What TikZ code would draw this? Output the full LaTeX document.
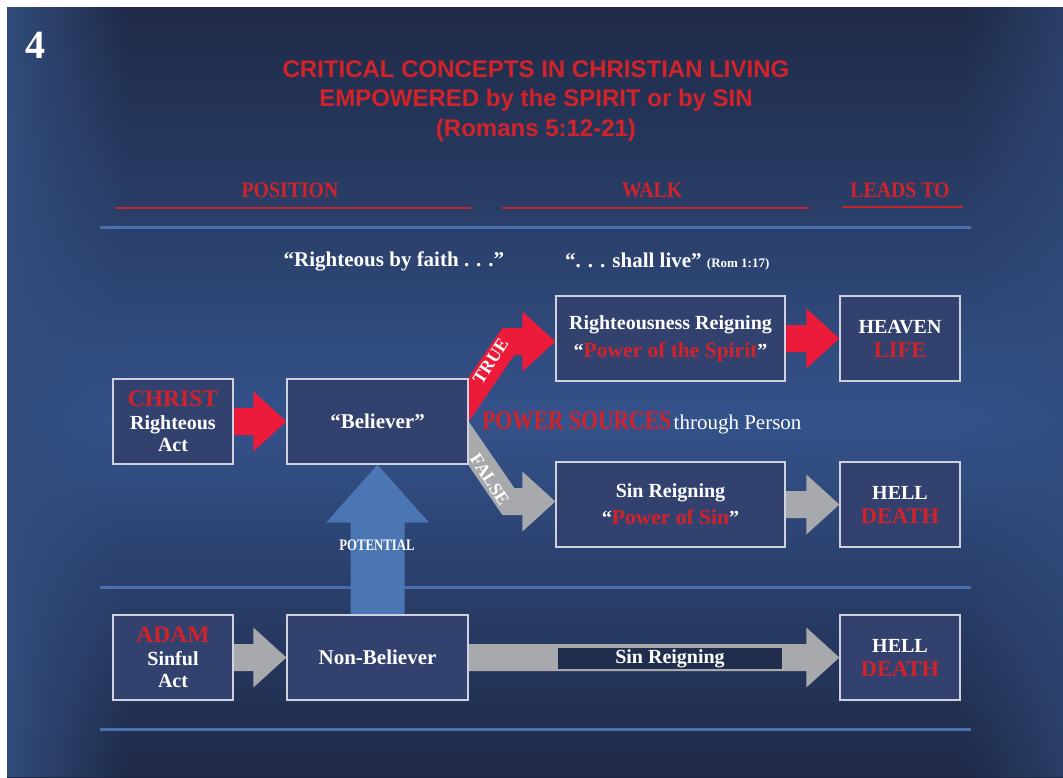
\documentclass[tikz,border=0pt]{standalone}
\usepackage{fontspec}
\setmainfont{Liberation Serif}
\newfontfamily\titlefont{Liberation Sans}
\newfontfamily\narrowfont[FakeStretch=0.8]{Liberation Serif}
\newfontfamily\hdrfont[FakeStretch=0.9]{Liberation Serif}
\usetikzlibrary{calc,fadings}
\definecolor{bgTop}   {RGB}{ 31, 42, 70}
\definecolor{bgMid}   {RGB}{ 52, 82,138}
\definecolor{bgBot}   {RGB}{ 30, 41, 70}
\definecolor{bgEdge}  {RGB}{ 50, 76,124}
\definecolor{barFill} {RGB}{ 32, 45, 77}
\definecolor{boxFill} {RGB}{ 51, 65,110}
\definecolor{boxLine} {RGB}{205,210,222}
\definecolor{ruleBlue}{RGB}{ 74,113,174}
\definecolor{potBlue} {RGB}{ 75,118,180}
\definecolor{txtRed}  {RGB}{210, 35, 42}
\definecolor{ulRed}   {RGB}{196, 38, 44}
\definecolor{arrRed}  {RGB}{237, 27, 58}
\definecolor{arrGray} {RGB}{167,169,172}
\pgfdeclarelayer{back}
\pgfdeclarelayer{arrows}
\pgfsetlayers{back,arrows,main}

\begin{document}
\begin{tikzpicture}[
  x=1pt, y=-1pt,
  every node/.style={text=white,inner sep=0pt},
  box/.style={draw=boxLine,line width=1.3pt,fill=boxFill,align=center,
              minimum height=85pt,font=\fontsize{20}{22.5}\selectfont\bfseries},
  smallbox/.style={box,minimum width=120pt},
  midbox/.style={box,minimum width=181pt,font=\fontsize{21}{22.5}\selectfont\bfseries},
  widebox/.style={box,minimum width=229pt},
  hdr/.style={text=txtRed,font=\hdrfont\bfseries\fontsize{22}{22}\selectfont},
  quote/.style={font=\bfseries\fontsize{21}{21}\selectfont},
  lbl/.style={font=\bfseries\fontsize{18}{18}\selectfont},
  rule/.style={ruleBlue,line width=3pt},
  ul/.style={ulRed,line width=2.5pt}
]
\useasboundingbox (0,0) rectangle (1063,777);

% background
\begin{pgfonlayer}{back}
\fill[white] (0,0) rectangle (1063,777);
\shade[top color=bgTop,bottom color=bgMid] (7,7) rectangle (1063,420);
\shade[top color=bgMid,bottom color=bgBot] (7,420) rectangle (1063,777);
\fill[bgEdge,path fading=east] (7,7) rectangle (130,777);
\fill[bgEdge,opacity=0.6,path fading=west] (960,7) rectangle (1063,777);
\draw[rule] (100,227) -- (971,227);
\draw[rule] (100,587) -- (971,587);
\draw[rule] (100,729) -- (971,729);
\draw[ul] (115,208) -- (471,208);
\draw[ul] (502,208) -- (809,208);
\draw[ul] (842,207) -- (963,207);
\end{pgfonlayer}

\node[font=\bfseries\fontsize{40}{40}\selectfont] (num) at (35,45) {4};
\node[text=txtRed,align=center,font=\titlefont\bfseries\fontsize{24}{29.5}\selectfont]
  (title) at (536,101) {CRITICAL CONCEPTS IN CHRISTIAN LIVING\\
  EMPOWERED by the SPIRIT or by SIN\\(Romans 5:12-21)};

\node[hdr] (hpos)  at (290,190) {POSITION};
\node[hdr] (hwalk) at (652,190) {WALK};
\node[hdr] (hlead) at (900,190) {LEADS TO};

\node[quote] (qfaith) at (394,261) {“Righteous by faith . . .”};
\node[quote,anchor=base west] (qlive) at (565,267)
  {“. . . shall live” {\fontsize{13}{13}\selectfont(Rom 1:17)}};

% boxes
\node[smallbox] (christ) at (173,421.5)
  {{\color{txtRed}\fontsize{23.5}{22.5}\selectfont CHRIST}\\Righteous\\Act};
\node[midbox] (believer) at (377.5,421.5) {“Believer”};
\node[widebox,font=\fontsize{20}{28}\selectfont\bfseries] (rr) at (670.5,338.5)
  {Righteousness Reigning\\“{\color{txtRed}\fontsize{21.5}{28}\selectfont Power of the Spirit}”};
\node[smallbox,font=\fontsize{20}{24}\selectfont\bfseries] (heaven) at (900,338.5)
  {HEAVEN\\{\color{txtRed}\fontsize{22.5}{24}\selectfont LIFE}};
\node[widebox,font=\fontsize{20}{27}\selectfont\bfseries] (sr) at (670.5,504.5)
  {Sin Reigning\\“{\color{txtRed}\fontsize{21.5}{27}\selectfont Power of Sin}”};
\node[smallbox,font=\fontsize{20}{24}\selectfont\bfseries] (hell) at (900,504.5)
  {HELL\\{\color{txtRed}\fontsize{22.5}{24}\selectfont DEATH}};
\node[smallbox] (adam) at (173,657.5)
  {{\color{txtRed}\fontsize{23.5}{22.5}\selectfont ADAM}\\Sinful\\Act};
\node[midbox] (nonbel) at (377.5,657.5) {Non-Believer};
\node[smallbox,font=\fontsize{20}{24}\selectfont\bfseries] (hell2) at (900,657.5)
  {HELL\\{\color{txtRed}\fontsize{22.5}{24}\selectfont DEATH}};

% block arrows
\begin{pgfonlayer}{arrows}
\fill[arrRed] let \p1=(christ.east), \p2=(believer.west) in
  (\x1,\y1+13.5pt) -- (\x2-33pt,\y1+13.5pt) -- (\x2-33pt,\y1+30pt) -- (\x2,\y1)
  -- (\x2-33pt,\y1-30pt) -- (\x2-33pt,\y1-13.5pt) -- (\x1,\y1-13.5pt) -- cycle;
\fill[arrGray] let \p1=(adam.east), \p2=(nonbel.west) in
  (\x1,\y1+13.5pt) -- (\x2-33pt,\y1+13.5pt) -- (\x2-33pt,\y1+30pt) -- (\x2,\y1)
  -- (\x2-33pt,\y1-30pt) -- (\x2-33pt,\y1-13.5pt) -- (\x1,\y1-13.5pt) -- cycle;
\fill[arrRed] let \p1=(rr.east), \p2=(heaven.west) in
  (\x1,\y1+13.5pt) -- (\x2-33pt,\y1+13.5pt) -- (\x2-33pt,\y1+30pt) -- (\x2,\y1)
  -- (\x2-33pt,\y1-30pt) -- (\x2-33pt,\y1-13.5pt) -- (\x1,\y1-13.5pt) -- cycle;
\fill[arrGray] let \p1=(sr.east), \p2=(hell.west) in
  (\x1,\y1+13.5pt) -- (\x2-33pt,\y1+13.5pt) -- (\x2-33pt,\y1+30pt) -- (\x2,\y1)
  -- (\x2-33pt,\y1-30pt) -- (\x2-33pt,\y1-13.5pt) -- (\x1,\y1-13.5pt) -- cycle;
\fill[arrGray] let \p1=(nonbel.east), \p2=(hell2.west) in
  (\x1,\y1+13.5pt) -- (\x2-33pt,\y1+13.5pt) -- (\x2-33pt,\y1+30pt) -- (\x2,\y1)
  -- (\x2-33pt,\y1-30pt) -- (\x2-33pt,\y1-13.5pt) -- (\x1,\y1-13.5pt) -- cycle;
\fill[potBlue] let \p1=(nonbel.north), \p2=(believer.south) in
  (\x1-27pt,\y1) -- (\x1-27pt,\y2-58pt) -- (\x1-51.5pt,\y2-58pt) -- (\x1,\y2)
  -- (\x1+51.5pt,\y2-58pt) -- (\x1+27pt,\y2-58pt) -- (\x1+27pt,\y1) -- cycle;
% bent arrows out of the believer
\fill[arrRed] let \p1=(believer.east), \p2=(rr.west) in
  (\x1,\y1) -- (\x1,\y1+44pt) -- (\x2-53pt,\y1+93.5pt) -- (\x2-33pt,\y1+93.5pt)
  -- (\x2-33pt,\y1+110pt) -- (\x2,\y1+80pt) -- (\x2-33pt,\y1+50pt)
  -- (\x2-33pt,\y1+66.5pt) -- (\x2-41pt,\y1+66.5pt) -- cycle;
\fill[arrGray] let \p1=(believer.east), \p2=(sr.west) in
  (\x1,\y1) -- (\x1,\y1-44pt) -- (\x2-53pt,\y1-93.5pt) -- (\x2-33pt,\y1-93.5pt)
  -- (\x2-33pt,\y1-110pt) -- (\x2,\y1-80pt) -- (\x2-33pt,\y1-50pt)
  -- (\x2-33pt,\y1-66.5pt) -- (\x2-41pt,\y1-66.5pt) -- cycle;
\end{pgfonlayer}

\node[lbl,rotate=57] (ltrue) at ($(believer.east)+(22,-60)$) {TRUE};
\node[lbl,rotate=-57] (lfalse) at ($(believer.east)+(21,58)$) {FALSE};
\node[anchor=base west] (power) at (482,429)
  {{\narrowfont\bfseries\color{txtRed}\fontsize{27}{27}\selectfont POWER SOURCES}
   {\fontsize{21}{21}\selectfont through Person}};
\node[font=\narrowfont\bfseries\fontsize{16}{16}\selectfont] (pot) at (377,545) {POTENTIAL};
\node[draw=arrGray,line width=1.5pt,fill=barFill,minimum width=226pt,minimum height=23pt,
      font=\bfseries\fontsize{20}{20}\selectfont] (sinbar) at (670,658.5) {Sin Reigning};
\end{tikzpicture}
\end{document}
